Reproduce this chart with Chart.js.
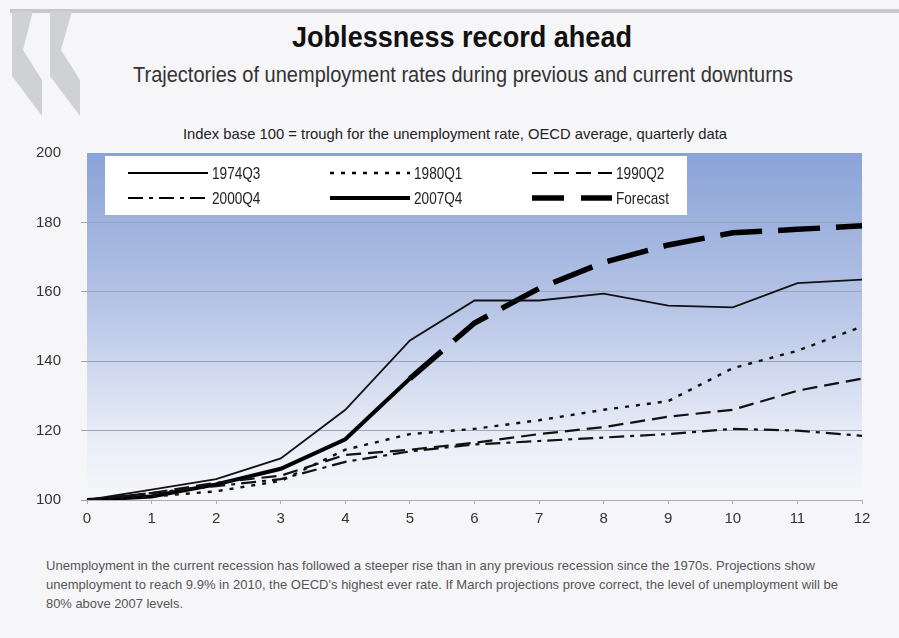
<!DOCTYPE html>
<html>
<head>
<meta charset="utf-8">
<script src="https://cdn.jsdelivr.net/npm/chart.js@4/dist/chart.umd.min.js"></script>
<style>
  body { margin: 0; background: #f6f6f8; font-family: 'Liberation Sans', Arial, sans-serif; }
  #page { position: relative; width: 899px; height: 638px; overflow: hidden; }
  .topbar { position: absolute; left: 10px; top: 9px; width: 889px; height: 4px; background: #c6c7ca; }
  .line { position: absolute; white-space: nowrap; transform-origin: 0 0; }
  .title { top: 20px; font-size: 30px; font-weight: bold; color: #111; }
  .subtitle { top: 62px; font-size: 22px; color: #333; }
  .note { top: 125px; font-size: 15px; color: #222; }
  .foot { font-size: 13.5px; color: #555; }
  #wrap { position: absolute; left: 0; top: 124px; width: 899px; height: 411px; }
</style>
</head>
<body>
<div id="page">
  <div class="topbar"></div>
  <svg style="position:absolute;left:0;top:0" width="90" height="125">
    <polygon points="12,11 33,11 23,50 42,80 42,116 12,76" fill="#cfd1d5"/>
    <polygon points="50,11 72,11 61,50 80,80 80,116 50,76" fill="#cfd1d5"/>
  </svg>
  <div class="line title" data-x="292" data-w="340">Joblessness record ahead</div>
  <div class="line subtitle" data-x="133" data-w="660">Trajectories of unemployment rates during previous and current downturns</div>
  <div class="line note" data-x="183" data-w="544">Index base 100 = trough for the unemployment rate, OECD average, quarterly data</div>
  <div id="wrap"><canvas id="myChart"></canvas></div>
  <div class="line foot" style="top:558px" data-x="46" data-w="769">Unemployment in the current recession has followed a steeper rise than in any previous recession since the 1970s. Projections show</div>
  <div class="line foot" style="top:577px" data-x="46" data-w="792">unemployment to reach 9.9% in 2010, the OECD's highest ever rate. If March projections prove correct, the level of unemployment will be</div>
  <div class="line foot" style="top:596px" data-x="46" data-w="137">80% above 2007 levels.</div>
</div>
<script>
// squeeze each text line to a narrow width
document.querySelectorAll('.line').forEach(el => {
  const w = el.getBoundingClientRect().width;
  el.style.left = el.dataset.x + 'px';
  el.style.transform = 'scaleX(' + (el.dataset.w / w) + ')';
});

// quarters after the trough
const quarters = ['0', '1', '2', '3', '4', '5', '6', '7', '8', '9', '10', '11', '12'];
const yTicks = [100, 120, 140, 160, 180, 200];

const r1974 = [100, 103, 106, 112, 126, 146, 157.5, 157.5, 159.5, 156, 155.5, 162.5, 163.5];
const r1980 = [100, 101, 102.5, 105.5, 114.5, 119, 120.5, 123, 126, 128.5, 138, 143, 150];
const r1990 = [100, 102, 105, 107, 113, 114.5, 116.5, 119, 121, 124, 126, 131.5, 135];
const r2000 = [100, 102, 104, 106, 111, 114, 116, 117, 118, 119, 120.5, 120, 118.5];
const r2007 = [100, 101, 104.5, 109, 117.5, 135];
const forecast = [null, null, null, null, null, 135, 151, 161, 168.5, 173.5, 177, 178, 179];

const FONT = "'Liberation Sans', Arial, sans-serif";
Chart.defaults.font.family = FONT;

// blue wash behind the plot
const bgPlugin = {
  id: 'bg',
  beforeDraw(chart) {
    const { ctx, chartArea: a } = chart;
    const g = ctx.createLinearGradient(0, a.top, 0, a.bottom);
    g.addColorStop(0, '#8aa3d7');
    g.addColorStop(0.45, '#b7c5e6');
    g.addColorStop(0.82, '#e9edf7');
    g.addColorStop(1, '#f6f7fa');
    ctx.save();
    ctx.fillStyle = g;
    ctx.fillRect(a.left, a.top, a.right - a.left, a.bottom - a.top);
    ctx.restore();
  }
};

// legend box, 3 columns x 2 rows, inside the plot
const legendPlugin = {
  id: 'boxLegend',
  afterDraw(chart) {
    const { ctx, chartArea: a } = chart;
    const x0 = a.left + 18, y0 = a.top + 3;
    ctx.save();
    ctx.fillStyle = '#ffffff';
    ctx.fillRect(x0, y0, 582, 59);
    chart.data.datasets.forEach((ds, n) => {
      const col = n % 3, row = Math.floor(n / 3);
      const lx = x0 + 23 + col * 202;
      const ly = y0 + 17 + row * 25;
      ctx.beginPath();
      ctx.strokeStyle = '#000';
      ctx.lineWidth = ds.borderWidth;
      ctx.setLineDash(ds.legendDash || ds.borderDash || []);
      ctx.moveTo(lx, ly);
      ctx.lineTo(lx + 80, ly);
      ctx.stroke();
      ctx.setLineDash([]);
      ctx.save();
      ctx.translate(lx + 84, ly + 1);
      ctx.scale(0.8, 1);
      ctx.fillStyle = '#222';
      ctx.font = '17px ' + FONT;
      ctx.textBaseline = 'middle';
      ctx.fillText(ds.label, 0, 0);
      ctx.restore();
    });
    ctx.restore();
  }
};

const ctx = document.getElementById('myChart').getContext('2d');
const myChart = new Chart(ctx, {
  type: 'line',
  data: {
    labels: quarters,
    datasets: [
      { label: '1974Q3', data: r1974, borderColor: '#111', borderWidth: 1.8 },
      { label: '1980Q1', data: r1980, borderColor: '#111', borderWidth: 2.4, borderDash: [4, 7] },
      { label: '1990Q2', data: r1990, borderColor: '#111', borderWidth: 2.2, borderDash: [15, 7] },
      { label: '2000Q4', data: r2000, borderColor: '#111', borderWidth: 2.2, borderDash: [15, 6, 4, 6] },
      { label: '2007Q4', data: r2007, borderColor: '#000', borderWidth: 4 },
      { label: 'Forecast', data: forecast, borderColor: '#000', borderWidth: 5.5, borderDash: [42, 16], legendDash: [32, 17] }
    ]
  },
  options: {
    responsive: true,
    maintainAspectRatio: false,
    animation: false,
    elements: { point: { radius: 0 }, line: { tension: 0, fill: false } },
    layout: { padding: { top: 12, right: 37, left: 0, bottom: 0 } },
    plugins: { legend: { display: false }, tooltip: { enabled: false } },
    scales: {
      x: {
        grid: { drawOnChartArea: false, color: '#a9adb8', tickLength: 4 },
        border: { color: '#a9adb8' },
        ticks: { color: '#333', font: { size: 15 }, padding: 6, maxRotation: 0 },
        afterFit(s) { s.height = 35; }
      },
      y: {
        min: 100, max: 200,
        afterBuildTicks(s) { s.ticks = yTicks.map(v => ({ value: v })); },
        grid: {
          color: c => (c.tick && c.tick.value === 200) ? 'rgba(0,0,0,0)' : '#9ea4b6',
          lineWidth: 1, tickLength: 6
        },
        border: { display: false },
        ticks: { color: '#333', font: { size: 15 }, padding: 20 },
        afterFit(s) { s.width = 87; }
      }
    }
  },
  plugins: [bgPlugin, legendPlugin]
});
</script>
</body>
</html>
